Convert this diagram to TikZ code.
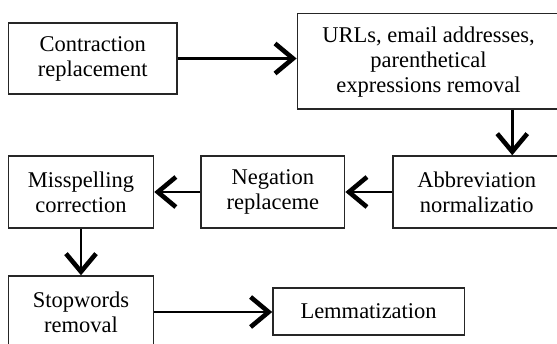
\documentclass[tikz,border=0pt]{standalone}
\usepackage{fontspec}
\setmainfont{Liberation Serif}
\usetikzlibrary{arrows.meta,calc}
\begin{document}
\begin{tikzpicture}[x=1pt,y=-1pt,
        base/.style={draw=black!85,line width=1.5pt,inner sep=0pt,align=center,
            font=\fontsize{22.5}{25}\selectfont},
        stage/.style={base,minimum height=72pt},
        txt/.style={align=center,inner sep=0pt,font=\fontsize{22.5}{25}\selectfont},
        arr/.style={line width=2.8pt,-{Straight Barb[length=18pt,width=30pt,line width=4.6pt]}}]
        \useasboundingbox (0,0) rectangle (557,343);
        \clip (0,0) rectangle (557,343);
        % Top row
        \node[stage,minimum width=168.5pt,minimum height=71pt] (contr) at (92.75,58.5) {Contraction\\replacement};
        \node[base,minimum width=300pt,minimum height=95.3pt,anchor=north west] (urls) at (296.6,12.7) {};
        \node[txt] (urlstext) at (428.5,62.5) {URLs, email addresses,\\parenthetical\\expressions removal};
        % Middle row
        \node[stage,minimum width=167.4pt] (abbr) at (476.7,192) {Abbreviation\\normalizatio};
        \node[stage,minimum width=143.6pt] (neg) at (272.8,192) {Negation\\replaceme};
        \node[stage,minimum width=145pt] (missp) at (81,192) {Misspelling\\correction};
        % Bottom row
        \node[stage,minimum width=145pt] (stop) at (81,312) {Stopwords\\removal};
        \node[stage,minimum width=191.3pt,minimum height=47pt] (lemma) at (368.6,311.5) {Lemmatization};
        % Connectors
        \draw[arr] (contr.east) -- (contr.east -| urls.west);
        \draw[arr] ([xshift=120pt]abbr.north west |- urls.south) -- ([xshift=120pt]abbr.north west);
        \draw[arr] (abbr.west) -- (neg.east);
        \draw[arr] (neg.west) -- (missp.east);
        \draw[arr] (missp.south) -- (stop.north);
        \draw[arr] (stop.east) -- (stop.east -| lemma.west);
    \end{tikzpicture}
\end{document}
